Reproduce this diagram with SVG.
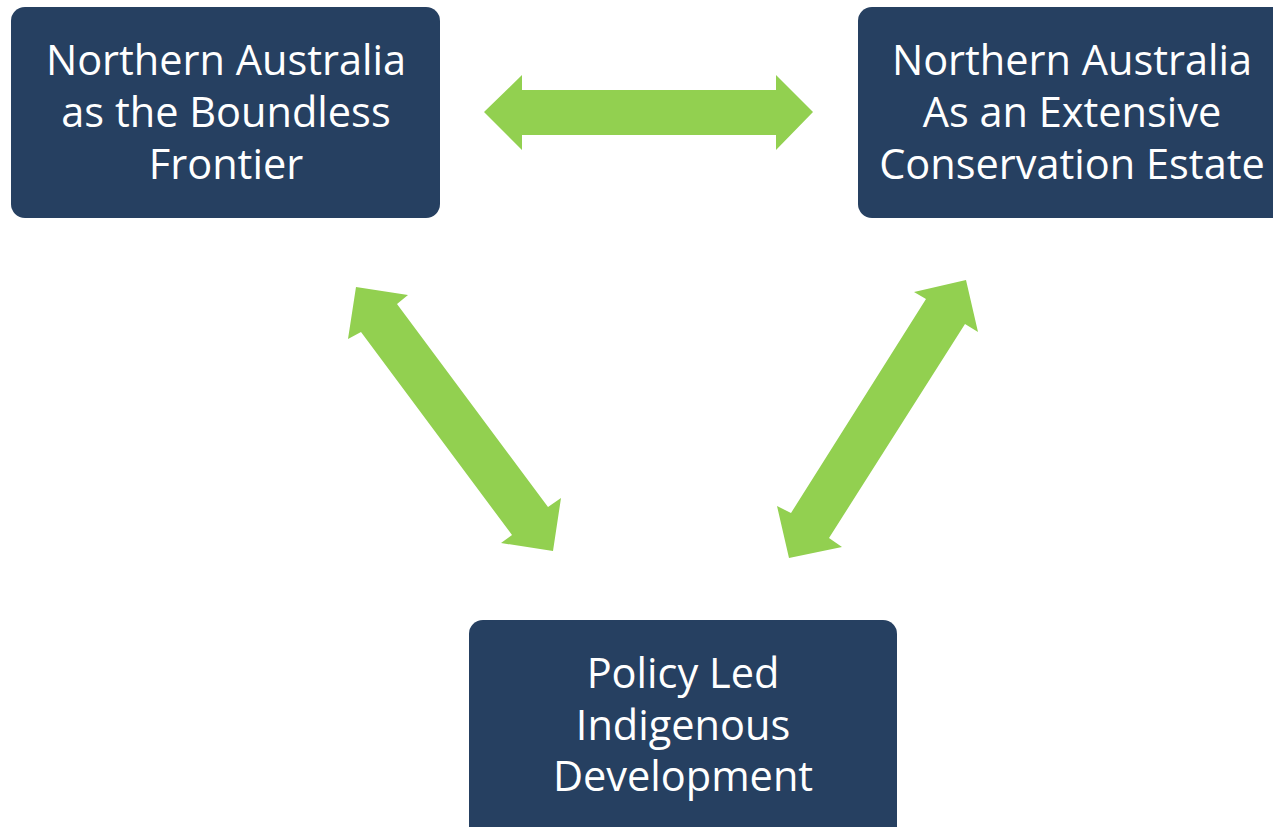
<svg xmlns="http://www.w3.org/2000/svg" width="1273" height="827" viewBox="0 0 1273 827">
<style>
.box{fill:#264061}
.t{font-family:"Open Sans","Noto Sans",sans-serif;font-size:41.5px;fill:#ffffff;text-anchor:middle}
.arr{fill:#92D050}
</style>
<rect width="1273" height="827" fill="#ffffff"/>
<g id="node-frontier">
<rect class="box" x="11" y="7" width="429" height="211" rx="14"/>
<text class="t" x="226" y="75">Northern Australia</text>
<text class="t" x="226" y="127">as the Boundless</text>
<text class="t" x="226" y="179">Frontier</text>
</g>
<g id="node-conservation">
<rect class="box" x="858" y="7" width="430" height="211" rx="14"/>
<text class="t" x="1072" y="75">Northern Australia</text>
<text class="t" x="1072" y="127">As an Extensive</text>
<text class="t" x="1072" y="179">Conservation Estate</text>
</g>
<g id="node-policy">
<rect class="box" x="469" y="620" width="428" height="220" rx="14"/>
<text class="t" x="683" y="688">Policy Led</text>
<text class="t" x="683" y="740">Indigenous</text>
<text class="t" x="683" y="791">Development</text>
</g>
<g id="connectors">
<polygon class="arr" points="484,112 522,75 522,90 776,90 776,75 813,112 776,150 776,135 522,135 522,150"/>
<polygon class="arr" points="356,287 408,295 397,304 548,507 561,498 553,551 501,543 512,535 361,332 348,339"/>
<polygon class="arr" points="966,280 978,332 965,324 829,538 842,547 789,558 777,506 791,513 926,299 914,292"/>
</g>
</svg>
